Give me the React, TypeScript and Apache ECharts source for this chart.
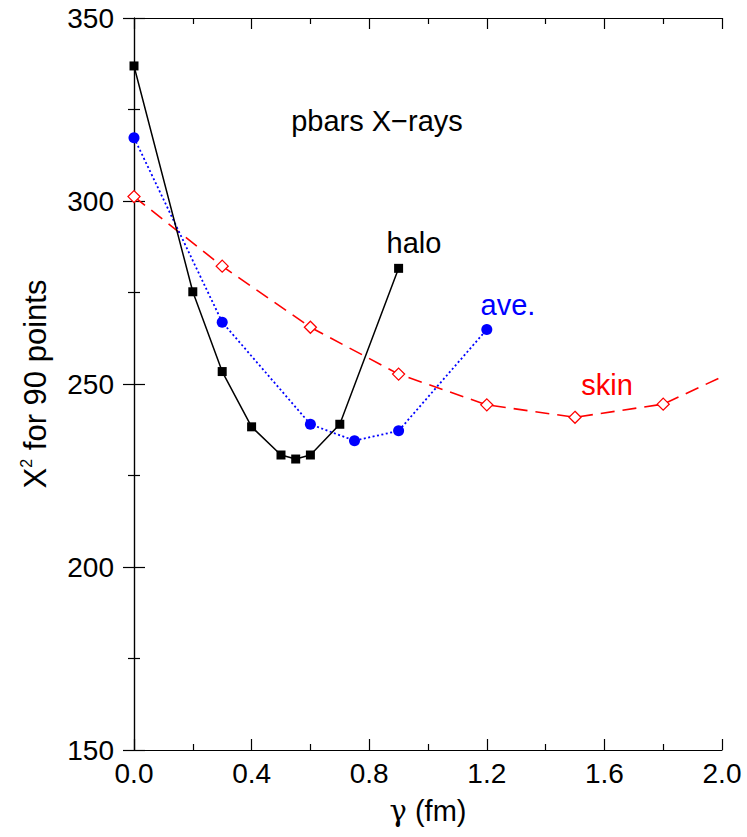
import React, { useEffect, useRef } from "react";
import * as echarts from "echarts";

const haloX = [0, 0.2, 0.3, 0.4, 0.5, 0.55, 0.6, 0.7, 0.9];
const haloY = [336.9, 275.2, 253.4, 238.3, 230.6, 229.5, 230.6, 239.0, 281.6];
const aveX = [0, 0.3, 0.6, 0.75, 0.9, 1.2];
const aveY = [317.3, 266.9, 239.0, 234.5, 237.2, 264.9];
const skinX = [0, 0.3, 0.6, 0.9, 1.2, 1.5, 1.8, 2.1];
const skinY = [301.2, 282.2, 265.5, 252.7, 244.3, 240.9, 244.5, 255.7];
const xTicks = [0, 0.4, 0.8, 1.2, 1.6, 2.0];
const yTicks = [150, 200, 250, 300, 350];

const FONT = "Liberation Sans, Arial, Helvetica, sans-serif";

const zip = (xs: number[], ys: number[]) => xs.map((x, i) => [x, ys[i]]);

export default function App() {
  const ref = useRef<HTMLDivElement>(null);
  useEffect(() => {
    document.body.style.margin = "0";
    const chart = echarts.init(ref.current!, null, { renderer: "svg" });
    const axisCommon = {
      axisLine: { show: true, lineStyle: { color: "#000", width: 1.2 } },
      axisTick: { show: true, inside: true, length: 11, lineStyle: { color: "#000", width: 1.2 } },
      minorTick: { show: true, splitNumber: 2, length: 6, lineStyle: { color: "#000", width: 1.2 } },
      splitLine: { show: false },
    };
    chart.setOption({
      animation: false,
      backgroundColor: "#fff",
      grid: { left: 134, right: 25, top: 18, bottom: 87, containLabel: false },
      xAxis: [
        {
          type: "value",
          min: xTicks[0],
          max: xTicks[xTicks.length - 1],
          interval: 0.4,
          ...axisCommon,
          axisLabel: {
            fontSize: 28,
            fontFamily: FONT,
            color: "#000",
            margin: 9,
            formatter: (v: number) => v.toFixed(1),
          },
          name: "{g|γ}{t| (fm)}",
          nameLocation: "middle",
          nameGap: 46,
          nameTextStyle: {
            fontSize: 29,
            fontFamily: FONT,
            color: "#000",
            rich: {
              g: { fontSize: 29, fontFamily: "DejaVu Serif", color: "#000" },
              t: { fontSize: 29, fontFamily: FONT, color: "#000" },
            },
          },
        },
        {
          type: "value",
          position: "top",
          min: xTicks[0],
          max: xTicks[xTicks.length - 1],
          interval: 0.4,
          ...axisCommon,
          axisLabel: { show: false },
        },
      ],
      yAxis: [
        {
          type: "value",
          min: yTicks[0],
          max: yTicks[yTicks.length - 1],
          interval: 50,
          ...axisCommon,
          axisLabel: { fontSize: 28, fontFamily: FONT, color: "#000", margin: 20 },
          name: "{x|X}{s|2}{x| for 90 points}",
          nameLocation: "middle",
          nameGap: 82,
          nameRotate: 90,
          nameTextStyle: {
            fontFamily: FONT,
            color: "#000",
            rich: {
              x: { fontSize: 31, fontFamily: FONT, color: "#000", lineHeight: 34 },
              s: { fontSize: 16, fontFamily: FONT, color: "#000", verticalAlign: "top", lineHeight: 34 },
            },
          },
        },
        {
          type: "value",
          position: "right",
          min: yTicks[0],
          max: yTicks[yTicks.length - 1],
          interval: 50,
          ...axisCommon,
          axisLabel: { show: false },
        },
      ],
      series: [
        {
          name: "skin",
          type: "line",
          data: zip(skinX, skinY),
          symbol: "diamond",
          symbolSize: 12,
          itemStyle: { color: "#fff", borderColor: "#ff0000", borderWidth: 1.3 },
          lineStyle: { color: "#ff0000", width: 1.6, type: [14, 8] },
          clip: true,
          z: 2,
        },
        {
          name: "ave",
          type: "line",
          data: zip(aveX, aveY),
          symbol: "circle",
          symbolSize: 11,
          itemStyle: { color: "#0000ff", borderWidth: 0 },
          lineStyle: { color: "#0000ff", width: 1.8, type: [2, 2.5] },
          z: 3,
        },
        {
          name: "halo",
          type: "line",
          data: zip(haloX, haloY),
          symbol: "rect",
          symbolSize: 9,
          itemStyle: { color: "#000", borderWidth: 0 },
          lineStyle: { color: "#000", width: 1.5 },
          z: 4,
        },
      ],
      graphic: [
        { type: "text", x: 377, y: 121, style: { text: "pbars X\u2212rays", fontSize: 29, fontFamily: FONT, fill: "#000", textAlign: "center", textVerticalAlign: "middle" } },
        { type: "text", x: 414, y: 243, style: { text: "halo", fontSize: 29, fontFamily: FONT, fill: "#000", textAlign: "center", textVerticalAlign: "middle" } },
        { type: "text", x: 508, y: 305, style: { text: "ave.", fontSize: 29, fontFamily: FONT, fill: "#0000ff", textAlign: "center", textVerticalAlign: "middle" } },
        { type: "text", x: 607, y: 385, style: { text: "skin", fontSize: 29, fontFamily: FONT, fill: "#ff0000", textAlign: "center", textVerticalAlign: "middle" } },
      ],
    });
    return () => chart.dispose();
  }, []);
  return <div ref={ref} style={{ width: 747, height: 837 }} />;
}
